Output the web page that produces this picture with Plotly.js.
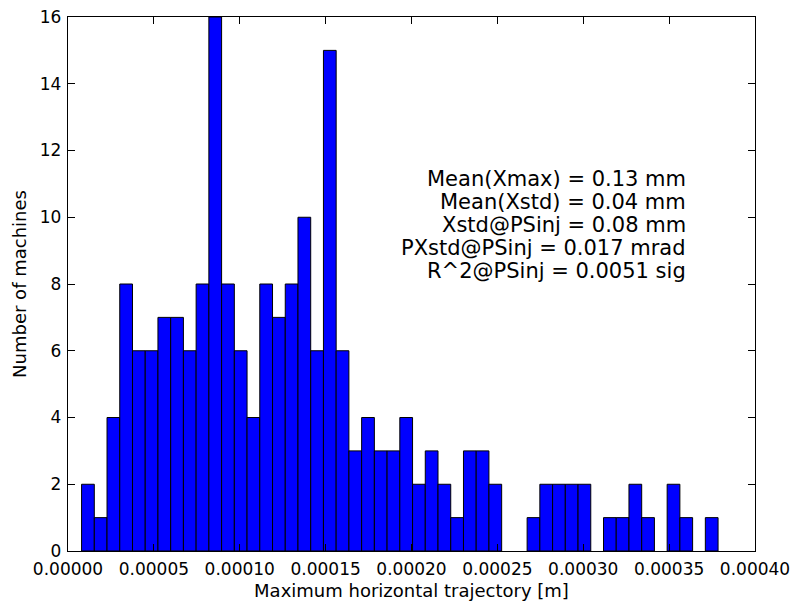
<!DOCTYPE html>
<html>
<head>
<meta charset="utf-8">
<script src="https://cdn.plot.ly/plotly-3.0.1.min.js"></script>
<style>html,body{margin:0;padding:0;background:#fff;}#chart{width:794px;height:604px;}</style>
</head>
<body>
<div id="chart"></div>
<script>
// Histogram: 50 equal bins between binStart and binEnd
const binStart = 0.0000079;
const binEnd = 0.0003785;
const counts = [2,1,4,8,6,6,7,7,6,8,16,8,6,4,8,7,8,10,6,15,
                6,3,4,3,3,4,2,3,2,1,3,3,2,0,0,1,2,2,2,2,
                0,1,1,2,1,0,2,1,0,1];
const xTickVals = [0,0.00005,0.0001,0.00015,0.0002,0.00025,0.0003,0.00035,0.0004];
const xTickText = ["0.00000","0.00005","0.00010","0.00015","0.00020","0.00025","0.00030","0.00035","0.00040"];
const yTickVals = [0,2,4,6,8,10,12,14,16];
const statsLines = [
  "Mean(Xmax) = 0.13 mm",
  "Mean(Xstd) = 0.04 mm",
  "Xstd@PSinj = 0.08 mm",
  "PXstd@PSinj = 0.017 mrad",
  "R^2@PSinj = 0.0051 sig"
];
const statsY = [11.15, 10.46, 9.77, 9.08, 8.39];
const statsX = 0.000361;

const nb = counts.length;
const bw = (binEnd - binStart) / nb;
const xs = [], ys = [];
counts.forEach((c, i) => { if (c > 0) { xs.push(binStart + (i + 0.5) * bw); ys.push(c); } });

const font = "DejaVu Sans, sans-serif";
const trace = {
  type: 'bar', x: xs, y: ys, width: bw,
  marker: {color: '#0000ff', line: {color: '#000000', width: 1}},
  hoverinfo: 'skip'
};

const annotations = statsLines.map((t, i) => ({
  x: statsX, y: statsY[i], xref: 'x', yref: 'y', text: t, showarrow: false,
  xanchor: 'right', yanchor: 'middle', align: 'right',
  font: {family: font, size: 21, color: '#000'}
}));

const layout = {
  width: 794, height: 604,
  margin: {l: 68, r: 39, t: 17, b: 53, pad: 0},
  paper_bgcolor: '#fff', plot_bgcolor: '#fff',
  showlegend: false,
  bargap: 0,
  xaxis: {
    range: [0, 0.0004], tickmode: 'array', tickvals: xTickVals, ticktext: xTickText,
    ticks: 'inside', ticklen: 7, tickwidth: 1, tickcolor: '#000',
    showline: true, linecolor: '#000', linewidth: 1.3, mirror: 'ticks',
    showgrid: false, zeroline: false, ticklabelstandoff: 2,
    tickfont: {family: font, size: 17, color: '#000'},
    title: {text: 'Maximum horizontal trajectory [m]', font: {family: font, size: 18, color: '#000'}, standoff: 6}
  },
  yaxis: {
    range: [0, 16], tickmode: 'array', tickvals: yTickVals,
    ticks: 'inside', ticklen: 7, tickwidth: 1, tickcolor: '#000',
    showline: true, linecolor: '#000', linewidth: 1.3, mirror: 'ticks',
    showgrid: false, zeroline: false, ticklabelstandoff: 2,
    tickfont: {family: font, size: 17, color: '#000'},
    title: {text: 'Number of machines', font: {family: font, size: 18, color: '#000'}, standoff: 8}
  },
  annotations: annotations
};

Plotly.newPlot('chart', [trace], layout, {staticPlot: true, displayModeBar: false});
</script>
</body>
</html>
